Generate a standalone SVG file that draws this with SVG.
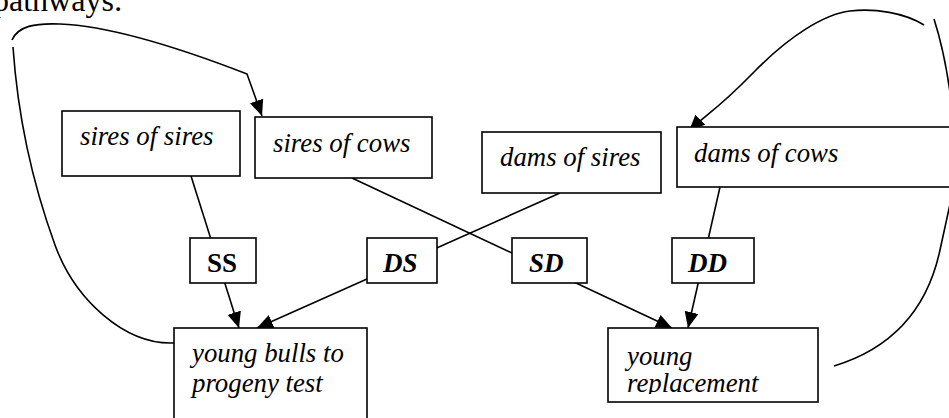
<svg xmlns="http://www.w3.org/2000/svg" width="949" height="418" viewBox="0 0 949 418">
<style>
  .box { fill: #ffffff; stroke: #000000; stroke-width: 1.6; }
  .t { font-family: "Liberation Serif", "Times New Roman", serif; font-size: 26.8px; font-style: italic; fill: #000; }
  .lb { font-family: "Liberation Serif", "Times New Roman", serif; font-size: 27px; font-weight: bold; fill: #000; }
  .lbi { font-style: italic; }
  .c { fill: none; stroke: #000; stroke-width: 1.6; }
  .hd { font-family: "Liberation Serif", "Times New Roman", serif; font-size: 32px; fill: #000; }
</style>
<defs>
  <marker id="ah" markerUnits="userSpaceOnUse" markerWidth="18" markerHeight="16" refX="16" refY="7" orient="auto" viewBox="0 0 18 16">
    <path d="M0,0 L16,7 L0,14 z" fill="#000"/>
  </marker>
  <clipPath id="clipRep"><rect x="608" y="328" width="210" height="66"/></clipPath>
</defs>
<rect x="0" y="0" width="949" height="418" fill="#ffffff"/>
<text class="hd" x="-7" y="11">pathways:</text>

<g id="connectors">
  <path class="c" d="M174,343 C125,345 75,300 55,245 C35,190 18,120 13,47"/>
  <path class="c" d="M12,40 C18,26 35,23 60,24 C110,26 180,48 247,74 L262,116" marker-end="url(#ah)"/>
  <path class="c" d="M834,366 C880,352 925,320 940,250 C943,236 947,218 952,195"/>
  <path class="c" d="M934,19 Q944,50 950,92"/>
  <path class="c" d="M924,25 C905,13 875,8 850,11 S790,35 753,73 S705,115 689,131" marker-end="url(#ah)"/>
  <path class="c" d="M191,176 L239,328" marker-end="url(#ah)"/>
  <path class="c" d="M560,193 L257,328" marker-end="url(#ah)"/>
  <path class="c" d="M352,178 L672,328" marker-end="url(#ah)"/>
  <path class="c" d="M720,187 L688,328" marker-end="url(#ah)"/>
</g>

<g id="sires-of-sires">
  <rect class="box" x="62" y="111" width="178" height="65"/>
  <text class="t" x="80" y="145">sires of sires</text>
</g>
<g id="sires-of-cows">
  <rect class="box" x="255" y="117" width="177" height="61"/>
  <text class="t" x="273" y="152">sires of cows</text>
</g>
<g id="dams-of-sires">
  <rect class="box" x="482" y="132" width="179" height="61"/>
  <text class="t" x="500" y="166">dams of sires</text>
</g>
<g id="dams-of-cows">
  <rect class="box" x="677" y="127" width="290" height="60"/>
  <text class="t" x="694" y="162">dams of cows</text>
</g>
<g id="SS">
  <rect class="box" x="190" y="238" width="66" height="45"/>
  <text class="lb" x="207" y="272">SS</text>
</g>
<g id="DS">
  <rect class="box" x="367" y="238" width="70" height="45"/>
  <text class="lb lbi" x="383" y="272">DS</text>
</g>
<g id="SD">
  <rect class="box" x="512" y="238" width="75" height="45"/>
  <text class="lb lbi" x="529" y="272">SD</text>
</g>
<g id="DD">
  <rect class="box" x="672" y="238" width="82" height="45"/>
  <text class="lb lbi" x="688" y="272">DD</text>
</g>
<g id="young-bulls">
  <rect class="box" x="174" y="328" width="193" height="110"/>
  <text class="t" x="192" y="362">young bulls to</text>
  <text class="t" x="192" y="392">progeny test</text>
</g>
<g id="young-replacement">
  <rect class="box" x="608" y="328" width="210" height="74"/>
  <g clip-path="url(#clipRep)">
    <text class="t" x="627" y="365">young</text>
    <text class="t" x="627" y="392">replacement</text>
  </g>
</g>
</svg>
